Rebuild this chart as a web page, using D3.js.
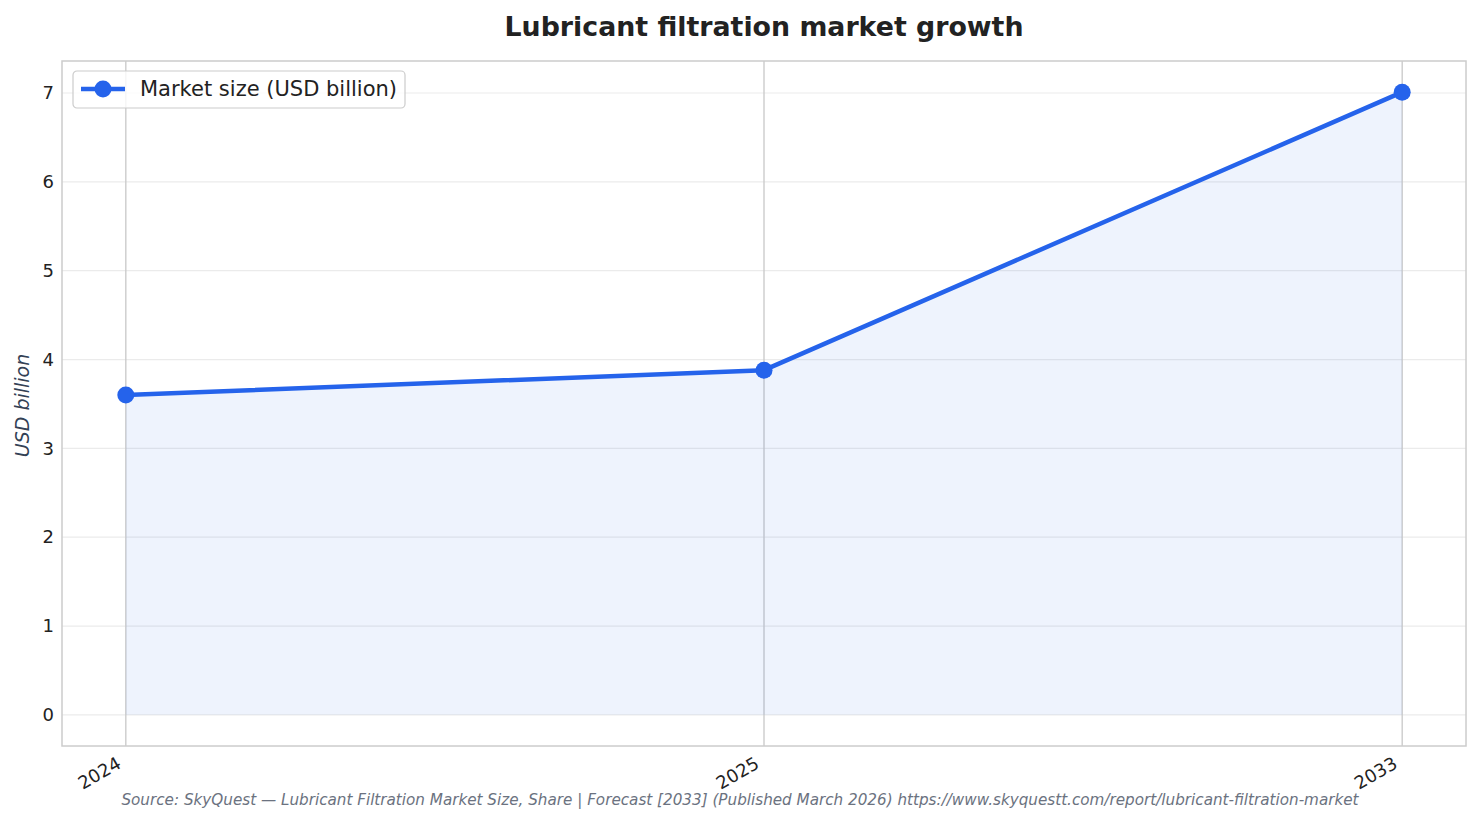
<!DOCTYPE html>
<html>
<head>
<meta charset="utf-8">
<script src="https://cdn.jsdelivr.net/npm/d3@7"></script>
<style>
  body { margin: 0; background: #fff; }
  text { font-family: "DejaVu Sans", sans-serif; }
</style>
</head>
<body>
<div id="chart"></div>
<script>
  // data
  let years = ["2024", "2025", "2033"];
  let marketSize = [3.6, 3.88, 7.01];
  let yTicks = [0, 1, 2, 3, 4, 5, 6, 7];

  let width = 1482;
  let height = 824;

  let margin = {
    top: 61,
    right: 16,
    bottom: 78,
    left: 62
  }

  let plotW = width - margin.left - margin.right;
  let plotH = height - margin.top - margin.bottom;

  let lineColor = "#2563eb";

  let svg = d3.select("#chart")
              .append("svg")
              .attr("width", width)
              .attr("height", height);

  // matplotlib style 5% margins on both axes
  let x = d3.scaleLinear()
            .domain([-0.1, years.length - 1 + 0.1])
            .range([margin.left, margin.left + plotW]);

  let yMax = d3.max(marketSize);
  let yPad = yMax * 0.05;
  let y = d3.scaleLinear()
            .domain([-yPad, yMax + yPad])
            .range([margin.top + plotH, margin.top]);

  // horizontal grid
  svg.append("g")
     .selectAll("line")
     .data(yTicks)
     .enter()
     .append("line")
     .attr("x1", margin.left)
     .attr("x2", margin.left + plotW)
     .attr("y1", d => y(d))
     .attr("y2", d => y(d))
     .attr("stroke", "#ebebeb")
     .attr("stroke-width", 1.2);

  // vertical grid at each category
  svg.append("g")
     .selectAll("line")
     .data(years)
     .enter()
     .append("line")
     .attr("x1", (d, i) => x(i))
     .attr("x2", (d, i) => x(i))
     .attr("y1", margin.top)
     .attr("y2", margin.top + plotH)
     .attr("stroke", "#c8c8c8")
     .attr("stroke-width", 1.3);

  // area fill
  let area = d3.area()
               .x((d, i) => x(i))
               .y0(y(0))
               .y1(d => y(d));

  svg.append("path")
     .datum(marketSize)
     .attr("d", area)
     .attr("fill", lineColor)
     .attr("fill-opacity", 0.08);

  // line
  let line = d3.line()
               .x((d, i) => x(i))
               .y(d => y(d));

  svg.append("path")
     .datum(marketSize)
     .attr("d", line)
     .attr("fill", "none")
     .attr("stroke", lineColor)
     .attr("stroke-width", 4.5)
     .attr("stroke-linejoin", "round")
     .attr("stroke-linecap", "round");

  svg.append("g")
     .selectAll("circle")
     .data(marketSize)
     .enter()
     .append("circle")
     .attr("cx", (d, i) => x(i))
     .attr("cy", d => y(d))
     .attr("r", 8.5)
     .attr("fill", lineColor);

  // axes frame
  svg.append("rect")
     .attr("x", margin.left)
     .attr("y", margin.top)
     .attr("width", plotW)
     .attr("height", plotH)
     .attr("fill", "none")
     .attr("stroke", "#cccccc")
     .attr("stroke-width", 1.5);

  // y axis
  let yAxis = d3.axisLeft(y)
                .tickValues(yTicks)
                .tickSize(0)
                .tickPadding(5)
                .tickFormat(d3.format("d"));

  let yG = svg.append("g")
              .attr("transform", "translate(" + (margin.left - 3) + ",0)")
              .call(yAxis);
  yG.select(".domain").remove();
  yG.selectAll("text")
    .attr("font-size", 18)
    .attr("fill", "#222");

  // x axis, rotated labels
  let xAxis = d3.axisBottom(x)
                .tickValues(years.map((d, i) => i))
                .tickSize(0)
                .tickFormat(i => years[i]);

  let xG = svg.append("g")
              .attr("transform", "translate(0," + (margin.top + plotH) + ")")
              .call(xAxis);
  xG.select(".domain").remove();
  xG.selectAll("text")
    .attr("font-size", 18)
    .attr("fill", "#222")
    .attr("text-anchor", "end")
    .attr("dy", 0)
    .attr("y", 0)
    .attr("transform", "translate(-4,21) rotate(-30)");

  // title
  svg.append("text")
     .attr("x", margin.left + plotW / 2)
     .attr("y", 36)
     .attr("text-anchor", "middle")
     .attr("font-size", 26.8)
     .attr("font-weight", "bold")
     .attr("fill", "#222")
     .text("Lubricant filtration market growth");

  // y label
  svg.append("text")
     .attr("transform", "translate(29," + (margin.top + plotH / 2 + 2) + ") rotate(-90)")
     .attr("text-anchor", "middle")
     .attr("font-size", 19)
     .attr("font-style", "italic")
     .attr("fill", "#334155")
     .text("USD billion");

  // legend
  let legend = svg.append("g")
                  .attr("transform", "translate(73,71)");

  legend.append("rect")
        .attr("width", 332)
        .attr("height", 37)
        .attr("rx", 4)
        .attr("fill", "#fff")
        .attr("fill-opacity", 0.8)
        .attr("stroke", "#cccccc")
        .attr("stroke-width", 1.2);

  legend.append("line")
        .attr("x1", 8)
        .attr("x2", 52)
        .attr("y1", 18)
        .attr("y2", 18)
        .attr("stroke", lineColor)
        .attr("stroke-width", 4.5);

  legend.append("circle")
        .attr("cx", 30)
        .attr("cy", 18)
        .attr("r", 8.5)
        .attr("fill", lineColor);

  legend.append("text")
        .attr("x", 67)
        .attr("y", 25)
        .attr("font-size", 21)
        .attr("fill", "#222")
        .text("Market size (USD billion)");

  // source note
  svg.append("text")
     .attr("x", 740)
     .attr("y", 805)
     .attr("text-anchor", "middle")
     .attr("font-size", 15.2)
     .attr("font-style", "italic")
     .attr("fill", "#6b7280")
     .text("Source: SkyQuest \u2014 Lubricant Filtration Market Size, Share | Forecast [2033] (Published March 2026) https://www.skyquestt.com/report/lubricant-filtration-market");
</script>
</body>
</html>
